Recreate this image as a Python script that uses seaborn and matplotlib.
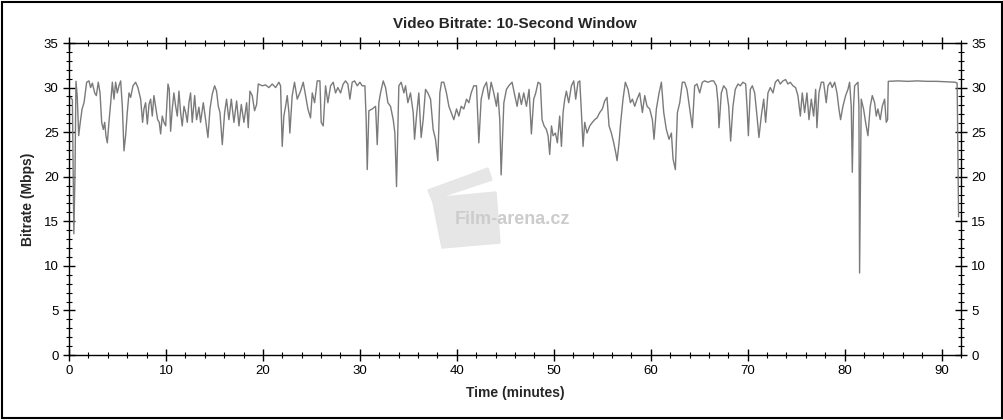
import numpy as np
import pandas as pd
import matplotlib
matplotlib.use("Agg")
import matplotlib.pyplot as plt
import matplotlib.patches as mpatches
from matplotlib.ticker import MultipleLocator
import seaborn as sns

# values (minutes, Mbps)
time_first = [
    0.0, 0.25, 0.35, 0.5, 0.62, 0.72, 0.85, 1.0, 1.15, 1.35, 1.55, 1.82, 2.06, 2.23, 2.41,
    2.65, 2.82, 3.02, 3.2, 3.37, 3.54, 3.68, 3.81, 3.95, 4.12, 4.30, 4.47, 4.64, 4.81, 4.98,
    5.15, 5.33, 5.50, 5.67, 5.84, 6.01, 6.19, 6.36, 6.6, 6.87, 7.11, 7.39, 7.59, 7.73, 7.9,
    8.08, 8.25, 8.42, 8.59, 8.76, 8.97, 9.14, 9.31, 9.45, 9.62, 9.79, 9.97, 10.21, 10.34,
    10.48, 10.65, 10.82, 11.0, 11.17, 11.34, 11.51, 11.68, 11.86, 12.03, 12.2, 12.37, 12.54,
    12.71, 12.96, 13.16, 13.4, 13.57, 13.85, 14.09, 14.33, 14.54, 14.78, 15.02, 15.22, 15.4,
    15.57, 15.81, 16.05, 16.25, 16.49, 16.74, 17.01, 17.29, 17.53, 17.77, 18.04, 18.32,
    18.49, 18.66, 18.9, 19.14, 19.35, 19.52, 19.93, 20.27, 20.62, 20.96, 21.31, 21.65,
    21.82, 21.99, 22.16, 22.34, 22.51, 22.68, 22.78, 23.02, 23.26, 23.54, 23.88, 24.16,
    24.4, 24.64, 24.91, 25.09, 25.33, 25.6, 25.88, 26.01, 26.22, 26.46, 26.7, 26.98, 27.25,
    27.49, 27.73, 28.01, 28.28, 28.52, 28.76, 28.97, 29.21, 29.45, 29.73, 30.0, 30.24,
    30.52, 30.65, 30.76, 30.93, 31.27, 31.62, 31.79, 31.96, 32.13, 32.41, 32.65, 32.89,
    33.16, 33.44, 33.61, 33.78, 34.02, 34.26, 34.54, 34.71, 34.95, 35.22, 35.5, 35.64,
    35.84, 36.08, 36.32, 36.53, 36.77, 37.01, 37.29, 37.56, 37.8, 38.04, 38.25, 38.42,
    38.66, 38.93, 39.18, 39.42, 39.69, 39.97, 40.21, 40.45, 40.72, 41.0, 41.24, 41.48,
    41.75, 42.03, 42.27, 42.51, 42.78, 43.06, 43.3, 43.54, 43.81, 44.09, 44.23, 44.43,
    44.57, 44.85, 45.12, 45.36, 45.7,
]
rate_first = [
    29.0, 28.8, 28.6, 13.6, 20.5, 30.7, 29.0, 24.6, 26.0, 27.6, 28.3, 30.6, 30.75, 30.0, 30.5,
    29.4, 29.1, 30.6, 29.4, 26.1, 25.3, 26.1, 24.6, 23.8, 26.1, 28.3, 30.6, 28.7, 30.6, 29.4,
    30.2, 30.75, 27.9, 22.9, 24.6, 27.2, 29.4, 28.9, 30.2, 30.6, 30.0, 28.7, 26.1, 27.6, 28.3,
    25.9, 28.1, 28.7, 26.8, 29.1, 27.6, 26.4, 26.1, 24.8, 26.8, 26.1, 25.7, 30.4, 29.8,
    25.1, 27.6, 29.4, 27.9, 26.8, 29.6, 27.2, 25.7, 27.9, 27.2, 26.1, 28.3, 29.4,
    26.1, 29.1, 26.4, 27.8, 26.1, 28.3, 26.4, 24.4, 27.6, 29.3, 30.2, 29.6, 27.9,
    27.2, 23.6, 27.2, 28.7, 26.4, 28.7, 26.1, 28.5, 25.7, 28.1, 26.1, 28.3,
    25.5, 29.6, 29.1, 27.4, 28.1, 30.4, 30.2, 30.3, 30.0, 30.4, 30.0, 30.6,
    30.2, 23.4, 26.8, 27.9, 29.1, 27.2, 24.9, 29.1, 30.6, 28.7, 29.6, 30.6,
    29.1, 27.6, 26.6, 29.4, 28.3, 30.75, 30.75, 26.1, 25.7, 30.2, 28.3, 30.2, 30.6,
    29.4, 30.0, 29.4, 30.4, 30.75, 30.4, 28.7, 30.6, 30.75, 30.2, 30.6, 30.2,
    30.2, 26.4, 20.8, 27.4, 27.6, 27.9, 23.6, 28.3, 29.4, 30.75, 30.0, 28.3,
    27.9, 26.4, 24.9, 18.9, 30.2, 30.6, 29.4, 30.2, 28.3, 29.4, 27.2, 24.2,
    26.8, 29.4, 24.4, 26.4, 29.8, 29.4, 28.7, 25.3, 24.2, 21.8, 29.4, 30.6,
    30.6, 29.4, 27.9, 27.2, 26.4, 27.6, 26.8, 27.9, 27.6, 28.7, 28.3, 29.4,
    30.2, 30.2, 23.8, 28.7, 30.0, 30.6, 28.7, 30.6, 29.4, 27.9, 29.4, 26.4,
    20.2, 28.3, 29.8, 30.2, 30.6,
]

time_second = [
    45.98, 46.22, 46.42, 46.66, 46.9, 47.18, 47.45, 47.69, 47.93, 48.14, 48.38, 48.62,
    48.79, 49.0, 49.24, 49.41, 49.58, 49.76, 49.93, 50.17, 50.37, 50.61, 50.79, 50.96,
    51.13, 51.3, 51.54, 51.82, 52.06, 52.26, 52.5, 52.68, 52.85, 53.02, 53.19, 53.43,
    53.71, 53.98, 54.22, 54.46, 54.74, 55.01, 55.25, 55.49, 55.7, 55.94, 56.18, 56.39,
    56.53, 56.73, 56.9, 57.14, 57.38, 57.66, 57.9, 58.11, 58.35, 58.59, 58.86, 59.14,
    59.38, 59.62, 59.89, 60.17, 60.34, 60.58, 60.86, 61.1, 61.34, 61.61, 61.89, 62.13,
    62.3, 62.54, 62.75, 62.99, 63.26, 63.5, 63.74, 64.02, 64.29, 64.53, 64.77, 65.05,
    65.32, 65.56, 65.91, 66.25, 66.49, 66.77, 66.94, 67.04, 67.28, 67.52, 67.8, 68.04,
    68.24, 68.48, 68.72, 69.0, 69.24, 69.51, 69.79, 69.93, 70.07, 70.27, 70.48, 70.72,
    70.96, 71.16, 71.4, 71.65, 71.85, 72.09, 72.33, 72.61, 72.85, 73.12, 73.36, 73.64,
    73.91, 74.15, 74.39, 74.67, 74.94, 75.18, 75.43, 75.63, 75.87, 76.11, 76.32, 76.56,
    76.8, 77.01, 77.14, 77.35, 77.59, 77.83, 78.1, 78.28, 78.52, 78.72, 78.97, 79.21,
    79.41, 79.58, 79.82, 80.1, 80.34, 80.51, 80.68, 80.79, 80.92, 81.03, 81.37, 81.47,
    81.54, 81.71, 81.95, 82.16, 82.4, 82.64, 82.85, 83.09, 83.26, 83.43, 83.67, 83.88,
    84.12, 84.29, 84.43, 84.5, 85.5, 86.5, 87.5, 88.5, 89.5, 90.5, 91.4, 91.6, 91.75,
]
rate_second = [
    29.1, 27.9, 29.4, 28.1, 29.4, 27.9, 29.8, 24.8, 28.7, 29.4, 30.6, 30.4,
    26.4, 25.7, 25.3, 24.6, 22.5, 25.7, 24.6, 24.9, 23.8, 26.8, 23.4, 27.2,
    28.7, 29.6, 28.3, 30.2, 30.75, 28.7, 30.6, 30.75, 27.2, 23.4, 26.1, 24.9,
    25.7, 26.1, 26.4, 26.6, 27.2, 27.6, 28.5, 28.9, 25.7, 24.9, 23.8, 22.7,
    21.8, 23.8, 26.1, 28.7, 30.6, 29.8, 28.3, 28.7, 27.9, 28.7, 29.4, 27.2,
    29.1, 27.9, 27.6, 26.4, 24.2, 27.6, 29.4, 30.6, 27.2, 25.3, 24.2, 24.9,
    22.0, 20.8, 27.2, 28.3, 30.6, 30.6, 29.8, 27.6, 25.5, 30.2, 30.4, 29.4,
    30.6, 30.75, 30.6, 30.75, 30.75, 30.2, 28.3, 25.5, 29.4, 30.2, 29.8, 27.9,
    24.0, 27.9, 29.8, 30.4, 30.2, 30.6, 30.4, 27.9, 24.6, 29.8, 30.2, 29.4,
    26.8, 24.4, 26.8, 28.7, 26.1, 29.4, 30.0, 29.4, 30.6, 30.9, 30.4, 30.75,
    30.9, 30.4, 30.6, 30.2, 30.0, 29.1, 26.8, 29.4, 27.2, 29.4, 26.4, 28.7,
    26.8, 29.8, 25.5, 29.4, 30.6, 30.6, 28.3, 30.2, 30.6, 30.0, 30.6, 29.4,
    27.6, 26.4, 27.9, 29.1, 29.8, 30.6, 27.9, 20.5, 27.9, 30.2, 30.6, 27.9,
    9.2, 28.7, 27.6, 26.1, 24.6, 27.9, 29.1, 28.3, 26.8, 27.6, 26.4, 27.9,
    28.7, 26.1, 26.4, 30.7, 30.75, 30.7, 30.75, 30.7, 30.7, 30.65, 30.6, 30.5, 15.5,
]

df = pd.DataFrame({
    "time": time_first + time_second,
    "rate": rate_first + rate_second,
})

sns.set_style("ticks")
plt.rcParams["font.family"] = ["Liberation Sans", "DejaVu Sans"]

fig = plt.figure(figsize=(10.04, 4.2), dpi=100)
ax = fig.add_axes([69 / 1004, 1 - 355 / 420, (961 - 69) / 1004, (355 - 43) / 420])

sns.lineplot(data=df, x="time", y="rate", ax=ax, color="#7a7a7a", linewidth=1.0,
             estimator=None, sort=False)

ax.set_xlim(0, 92)
ax.set_ylim(0, 35)
ax.xaxis.set_major_locator(MultipleLocator(10))
ax.xaxis.set_minor_locator(MultipleLocator(2))
ax.yaxis.set_major_locator(MultipleLocator(5))
ax.yaxis.set_minor_locator(MultipleLocator(1))
ax.tick_params(which="both", top=True, right=True, labelright=True,
               direction="inout", colors="black", labelsize=9.5)
ax.tick_params(which="major", length=8, width=1)
ax.tick_params(which="minor", length=4, width=0.8)
for sp in ax.spines.values():
    sp.set_visible(True)
    sp.set_color("black")
    sp.set_linewidth(1.0)

ax.set_title("Video Bitrate: 10-Second Window", fontsize=11, fontweight="bold", pad=11)
ax.set_xlabel("Time (minutes)", fontsize=10, fontweight="bold", labelpad=6)
ax.set_ylabel("Bitrate (Mbps)", fontsize=10, fontweight="bold", labelpad=6)

# watermark
clap = mpatches.Polygon([(432 / 1004, 1 - 198 / 420), (496 / 1004, 1 - 192 / 420),
                         (500 / 1004, 1 - 243 / 420), (442 / 1004, 1 - 248 / 420)],
                        closed=True, transform=fig.transFigure, color="#e6e6e6", zorder=0)
top = mpatches.Polygon([(428 / 1004, 1 - 190 / 420), (488 / 1004, 1 - 168 / 420),
                        (492 / 1004, 1 - 180 / 420), (432 / 1004, 1 - 200 / 420)],
                       closed=True, transform=fig.transFigure, color="#e6e6e6", zorder=0)
fig.patches.extend([clap, top])
fig.text(512 / 1004, 1 - 219 / 420, "Film-arena.cz", fontsize=13, fontweight="bold",
         color="#cccccc", ha="center", va="center", zorder=0)

# outer frame
fig.patches.append(mpatches.Rectangle((0.002, 0.004), 0.996, 0.992, transform=fig.transFigure,
                                      fill=False, edgecolor="black", linewidth=1.5))

fig.savefig("out.png", dpi=100)
